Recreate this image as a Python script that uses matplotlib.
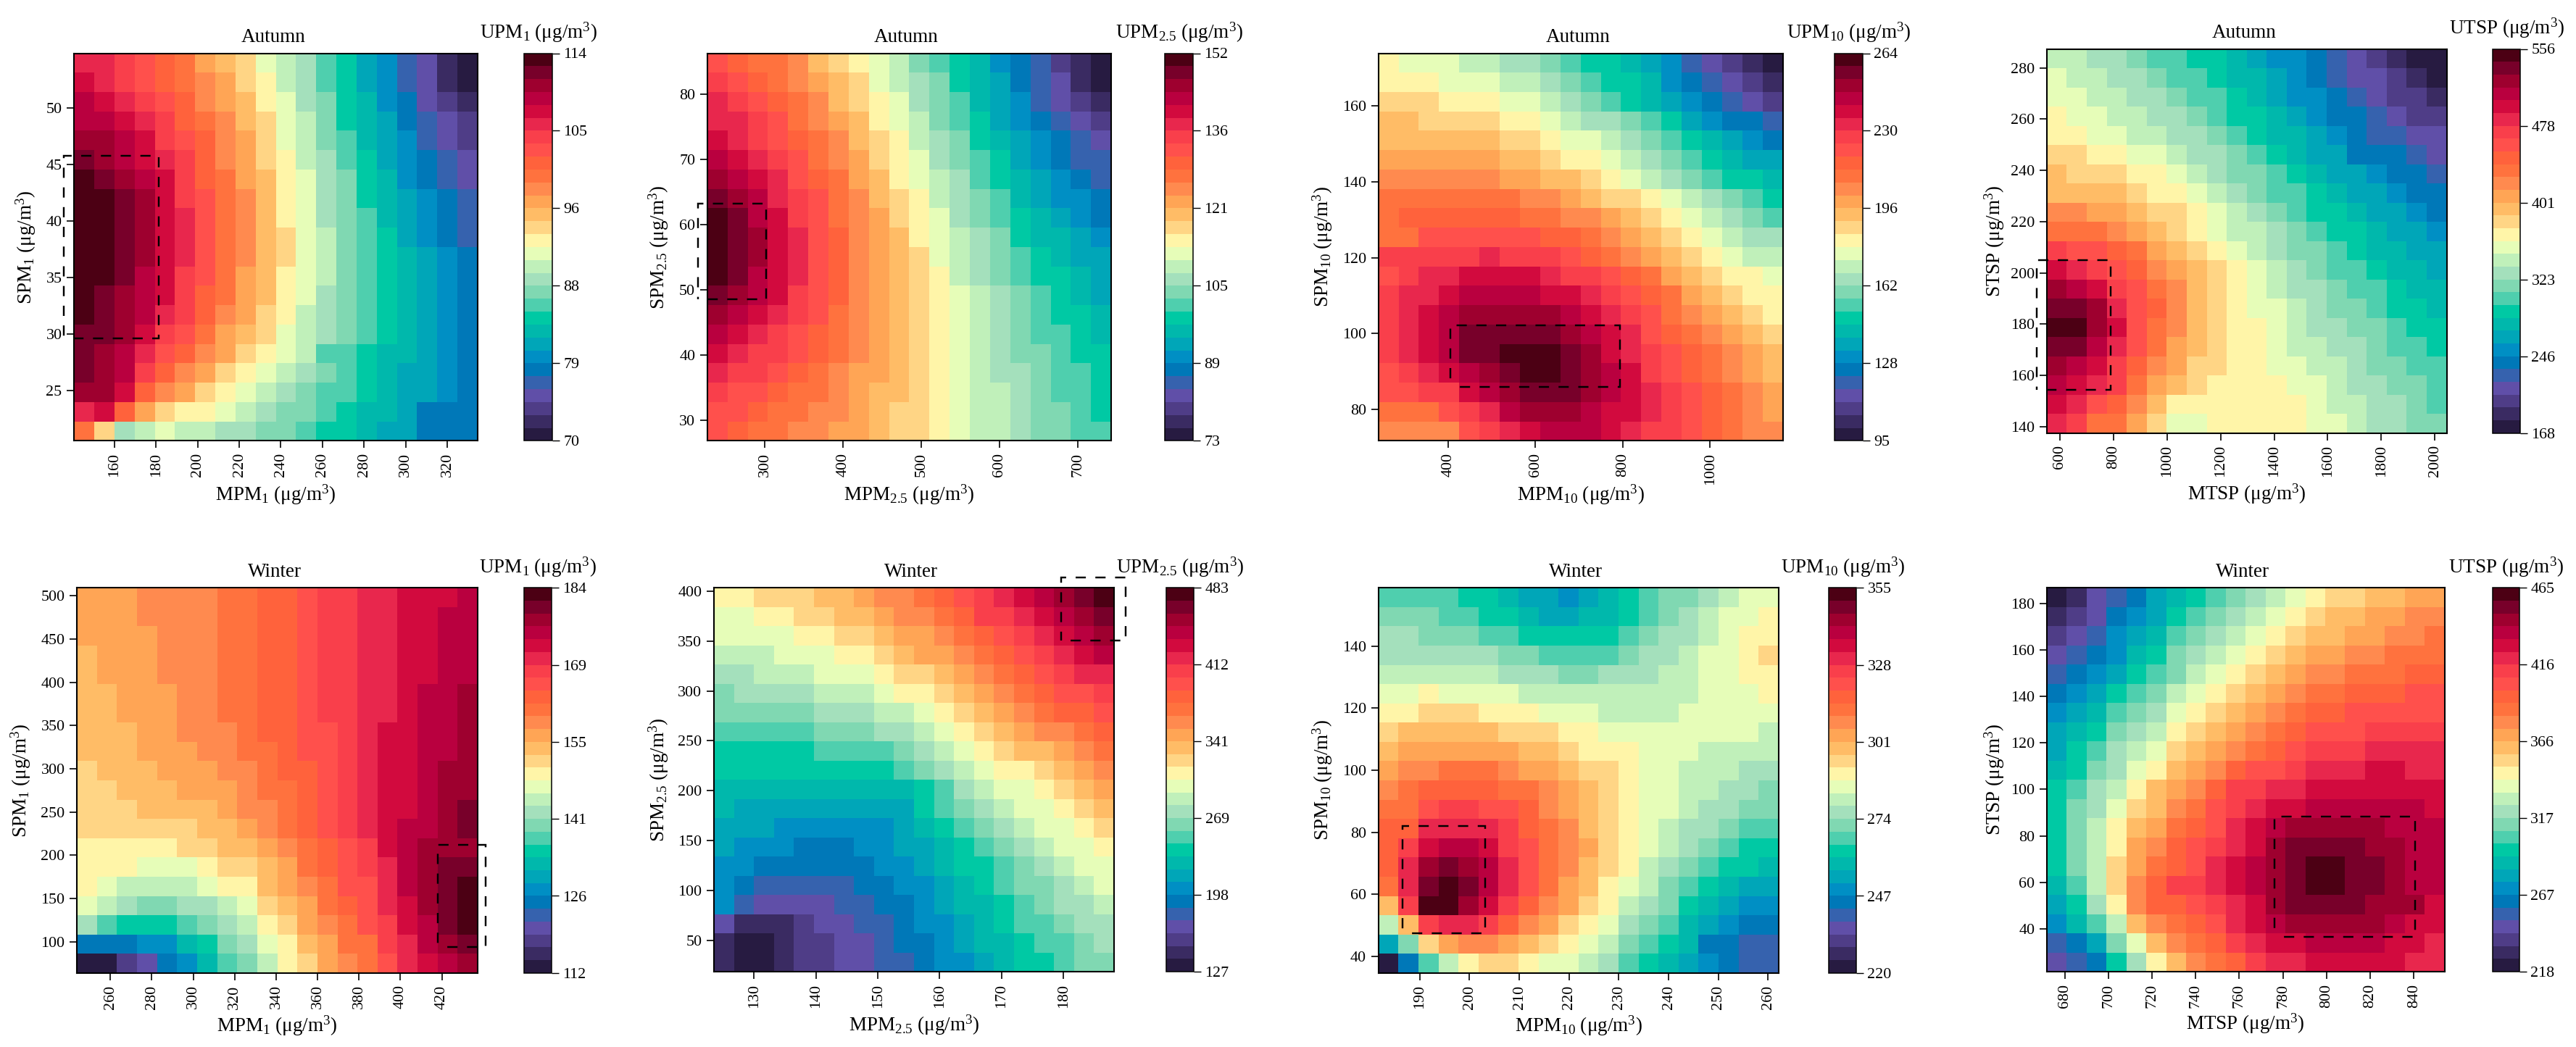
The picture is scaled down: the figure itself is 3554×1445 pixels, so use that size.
#!/usr/bin/env python3
# Mapas de calor U vs M / S (otoño e invierno): 8 paneles con barra de 30 niveles.
# Cada matriz guarda el nivel de color leido (0-29), fila 0 = arriba.

import numpy as np
import matplotlib
matplotlib.use("Agg")
import matplotlib.pyplot as plt
from matplotlib.colors import ListedColormap
from matplotlib.patches import Rectangle

plt.rcParams["font.family"] = ["Liberation Serif", "DejaVu Serif"]
plt.rcParams["mathtext.default"] = "regular"
plt.rcParams["mathtext.fontset"] = "custom"
plt.rcParams["mathtext.rm"] = "Liberation Serif"

W, H = 3554, 1445

COLORES = ["#271b41", "#3a2b62", "#4f3d87", "#604fa8", "#3662ae", "#0078b8",
           "#008fc4", "#00a6b8", "#00b8ac", "#00c9a4", "#4fcfae", "#80d8b2",
           "#a4e0bc", "#c0f0ba", "#e6fdb8", "#fff5a8", "#ffd585", "#ffbc66",
           "#ffa555", "#ff8a4f", "#ff723e", "#ff623c", "#ff504c", "#f93f4b",
           "#e8274d", "#d20a3e", "#b9003f", "#9e002f", "#78002a", "#4c0014"]

A_PM1 = [
    [24,24,23,22,21,20,18,17,16,14,13,12,10,9,7,6,4,3,1,0],
    [25,24,23,22,21,20,19,18,16,15,13,12,10,9,7,6,4,3,1,0],
    [26,25,24,23,22,21,19,18,17,15,14,12,11,9,8,6,5,3,2,1],
    [26,26,25,24,23,21,20,19,17,16,14,13,11,9,8,7,5,4,3,2],
    [27,27,26,25,23,22,21,19,18,16,14,13,11,10,8,7,6,4,3,2],
    [28,27,26,25,24,23,21,19,18,16,15,13,12,10,9,7,6,5,4,3],
    [29,28,27,26,25,23,21,20,18,17,15,14,12,11,9,8,6,5,4,3],
    [29,29,28,27,25,23,22,20,19,17,15,14,12,11,9,8,7,6,5,4],
    [29,29,28,27,25,24,22,20,19,17,15,14,12,11,10,8,7,6,5,4],
    [29,29,28,27,25,24,22,20,19,17,16,14,13,11,10,9,7,6,5,4],
    [29,29,28,27,25,24,22,20,19,17,16,14,13,11,10,9,8,7,6,5],
    [29,29,28,26,25,23,22,20,18,17,15,14,13,11,10,9,8,7,6,5],
    [29,28,27,26,25,23,21,20,18,17,15,14,12,11,10,9,8,7,6,5],
    [29,28,27,26,24,23,21,19,18,16,15,13,12,11,10,9,8,7,6,5],
    [28,28,27,25,23,22,20,18,17,16,14,13,12,11,10,9,8,7,6,5],
    [28,27,26,24,22,21,19,18,16,15,14,13,10,10,9,8,8,7,6,5],
    [28,27,26,23,21,19,18,16,15,14,13,12,11,10,9,8,7,7,6,5],
    [27,27,25,21,19,18,16,15,14,13,12,11,10,10,9,8,7,7,6,5],
    [24,25,21,18,16,15,15,14,13,12,11,11,10,9,8,8,7,5,5,5],
    [20,16,12,13,14,13,13,12,12,11,11,10,9,9,8,7,7,5,5,5],
]

A_PM25 = [
    [22,21,20,20,19,17,16,15,14,13,11,10,9,8,6,5,4,2,1,0],
    [23,22,21,20,19,18,17,16,14,13,12,11,9,8,7,5,4,3,1,0],
    [24,23,22,21,20,19,17,16,15,14,12,11,10,8,7,6,4,3,2,1],
    [24,24,23,22,20,19,18,17,15,14,13,11,10,9,7,6,5,4,3,2],
    [25,24,23,22,21,20,19,17,16,15,13,12,11,9,8,7,6,5,4,3],
    [26,25,24,23,22,20,19,18,16,15,14,12,11,10,9,7,6,5,4,4],
    [27,26,25,24,22,21,20,18,17,15,14,13,12,10,9,8,7,6,5,4],
    [28,27,26,24,23,22,20,19,17,16,15,13,12,11,10,8,7,6,6,5],
    [29,28,26,25,23,22,20,19,18,16,15,14,12,11,10,9,8,7,6,5],
    [29,28,27,25,24,22,21,19,18,17,15,14,13,12,11,9,8,8,7,6],
    [29,28,27,25,24,22,21,19,18,17,16,14,13,12,11,10,9,8,7,7],
    [29,28,26,25,24,22,21,19,18,17,16,15,13,12,11,10,9,9,8,7],
    [28,27,26,25,23,22,21,19,18,17,16,15,14,13,12,11,10,9,8,7],
    [27,26,25,24,23,22,20,19,18,17,16,15,14,13,12,11,10,9,9,8],
    [26,25,24,23,22,21,20,19,18,17,16,15,14,13,12,11,10,10,9,8],
    [25,24,23,23,22,21,20,19,18,17,16,15,14,13,12,11,11,10,9,9],
    [24,23,23,22,21,20,19,18,18,17,16,15,14,13,12,12,11,10,10,9],
    [23,22,22,21,20,20,19,18,17,17,16,15,14,13,13,12,11,10,10,9],
    [22,22,21,20,20,19,19,18,17,16,16,15,14,13,13,12,11,11,10,9],
    [22,21,20,20,19,19,18,18,17,16,16,15,14,13,13,12,11,11,10,10],
]

A_PM10 = [
    [15,14,14,14,13,13,12,12,11,10,9,9,8,7,6,4,3,2,1,0],
    [15,15,15,14,14,14,13,13,12,11,10,9,9,8,6,5,4,3,2,1],
    [16,16,16,15,15,15,14,14,13,12,11,10,9,8,7,6,5,4,3,2],
    [17,17,16,16,16,16,15,15,14,13,12,12,11,10,9,7,6,5,5,4],
    [17,17,17,17,17,17,16,16,15,14,14,13,12,11,10,9,8,7,6,5],
    [18,18,18,18,18,18,17,17,16,15,15,14,13,12,11,10,9,8,7,7],
    [19,19,19,19,19,19,18,18,17,17,16,15,14,13,12,11,10,9,9,8],
    [20,20,20,20,20,20,20,19,19,18,17,16,16,15,14,13,12,11,10,9],
    [20,21,21,21,21,21,21,20,20,19,19,18,17,16,15,14,13,12,11,10],
    [20,20,22,22,22,22,22,22,21,21,20,19,18,17,16,15,14,13,12,12],
    [23,23,23,23,23,24,23,23,23,22,21,20,19,18,17,16,15,14,13,13],
    [22,23,24,24,25,25,25,25,24,23,23,22,21,20,18,17,16,15,15,14],
    [23,24,24,25,26,26,26,26,25,25,24,23,22,21,20,18,17,16,15,15],
    [23,24,25,26,27,27,27,27,27,26,25,24,23,22,20,19,18,17,16,15],
    [23,24,25,26,28,28,28,28,28,27,26,25,24,22,21,20,19,18,17,16],
    [23,24,25,26,28,28,29,29,29,28,27,25,24,23,22,21,20,19,18,17],
    [22,23,24,25,26,27,28,29,29,28,27,26,25,23,22,21,20,19,18,17],
    [22,22,23,23,25,26,27,28,28,28,27,26,25,24,23,22,21,20,19,18],
    [20,20,20,22,23,24,26,27,27,27,26,25,25,24,23,22,21,20,19,18],
    [19,19,19,19,22,23,24,25,26,26,26,25,24,23,23,22,21,20,19,19],
]

A_TSP = [
    [13,13,12,12,11,10,10,9,9,8,7,6,6,5,4,3,2,1,0,0],
    [14,13,13,12,12,11,10,10,9,8,8,7,6,5,4,3,3,2,1,0],
    [14,14,13,13,12,12,11,10,10,9,8,7,6,6,5,4,3,2,2,1],
    [15,14,14,13,13,12,12,11,10,9,9,8,7,6,5,5,4,3,2,2],
    [15,15,14,14,13,13,12,12,11,10,9,8,8,7,6,5,4,4,3,3],
    [16,16,15,15,14,14,13,12,12,11,10,9,8,7,7,5,5,5,4,3],
    [17,16,16,16,15,15,14,13,12,11,11,10,9,8,7,7,6,5,5,4],
    [17,17,17,17,16,15,15,14,13,12,11,10,10,9,8,7,7,6,5,5],
    [19,19,18,18,17,16,16,15,14,13,12,11,10,9,9,8,7,7,6,5],
    [20,20,20,19,18,17,16,15,14,13,13,12,11,10,9,9,8,7,7,6],
    [23,22,22,21,20,18,17,16,15,14,13,12,11,11,10,9,8,8,7,7],
    [25,24,23,22,21,19,18,17,16,15,14,13,12,11,10,10,9,8,8,7],
    [27,26,25,23,22,20,19,17,16,15,14,13,12,12,11,10,10,9,8,8],
    [28,28,27,24,22,21,19,17,16,15,14,14,13,12,11,11,10,9,9,8],
    [29,29,27,25,22,20,19,17,16,15,15,14,13,12,12,11,11,10,9,9],
    [28,28,26,24,22,20,18,17,16,15,15,14,13,13,12,12,11,10,10,9],
    [27,26,25,23,21,19,18,16,16,15,15,14,14,13,13,12,11,11,10,10],
    [26,25,24,23,20,18,17,16,15,15,15,15,14,14,13,12,12,11,11,10],
    [25,24,22,21,19,17,15,15,15,15,15,15,15,14,13,13,12,12,11,10],
    [24,23,20,20,18,16,14,14,15,15,15,15,15,14,14,13,12,12,11,11],
]

W_PM1 = [
    [18,18,18,19,19,19,19,20,20,21,21,22,23,23,24,24,25,25,25,26],
    [18,18,18,19,19,19,19,20,20,21,21,22,23,23,24,24,25,25,26,26],
    [18,18,18,18,19,19,19,20,20,21,21,22,23,23,24,24,25,25,26,26],
    [17,18,18,18,19,19,19,20,20,21,21,22,23,23,24,24,25,25,26,26],
    [17,18,18,18,19,19,19,20,20,21,21,22,23,23,24,24,25,25,26,26],
    [17,17,18,18,18,19,19,20,20,21,21,22,23,23,24,24,25,26,26,27],
    [17,17,18,18,18,19,19,20,20,21,21,22,23,23,24,24,25,26,26,27],
    [17,17,17,18,18,19,19,19,20,21,21,22,22,23,24,25,25,26,26,27],
    [17,17,17,18,18,18,19,19,20,20,21,22,22,23,24,25,25,26,26,27],
    [16,17,17,17,18,18,18,19,19,20,21,21,22,23,24,25,25,26,27,27],
    [16,16,17,17,17,18,18,18,19,20,20,21,22,23,24,25,25,26,27,27],
    [16,16,16,17,17,17,17,18,19,19,20,21,22,23,24,25,25,26,27,28],
    [16,16,16,16,16,16,17,17,18,19,20,21,22,23,24,25,26,26,27,28],
    [15,15,15,15,15,16,16,17,17,18,19,20,21,22,23,25,26,27,27,27],
    [15,15,15,14,14,14,15,16,16,17,18,20,21,22,23,24,26,27,28,28],
    [15,14,13,13,13,13,14,15,15,17,18,19,20,22,22,24,26,27,28,29],
    [14,13,12,11,11,12,12,13,14,16,17,18,20,21,22,24,25,27,28,29],
    [12,10,9,9,9,10,11,12,13,15,16,18,19,20,22,23,25,26,28,29],
    [5,5,5,6,6,8,9,11,12,14,15,17,18,20,20,23,24,26,27,28],
    [0,0,2,3,5,6,8,10,11,13,15,16,18,19,20,22,24,25,26,27],
]

W_PM25 = [
    [15,15,16,16,16,17,17,18,19,19,20,21,22,23,24,25,26,27,28,29],
    [14,14,15,15,16,16,17,17,18,19,19,20,21,23,23,24,25,26,27,28],
    [14,14,14,14,15,15,16,16,17,18,18,19,20,21,22,23,24,25,26,27],
    [13,13,13,14,14,14,15,15,16,17,18,18,19,20,21,22,23,24,25,26],
    [12,12,13,13,13,14,14,14,15,16,16,17,18,19,20,21,22,23,24,24],
    [11,12,12,12,12,13,13,13,14,15,15,16,17,18,19,20,21,22,22,23],
    [11,11,11,11,11,12,12,12,13,13,14,15,16,17,18,19,20,21,21,22],
    [10,10,10,10,10,11,11,11,12,12,13,14,15,16,17,18,19,19,20,21],
    [9,9,9,9,9,10,10,10,10,11,12,13,14,15,16,17,17,18,19,20],
    [9,9,9,9,9,9,9,9,9,10,11,12,13,14,15,15,16,17,18,19],
    [8,8,8,8,8,8,8,8,8,8,9,10,12,13,14,14,15,16,17,18],
    [8,7,7,7,7,7,7,7,7,7,9,10,11,12,13,14,14,15,16,17],
    [7,7,7,6,6,6,6,6,6,7,8,9,10,11,12,13,14,14,15,16],
    [7,6,6,6,5,5,5,6,6,7,7,8,9,10,11,12,13,14,14,15],
    [6,6,5,5,5,5,5,5,6,6,7,8,9,9,10,11,12,13,14,14],
    [6,5,4,4,4,4,4,5,5,6,6,7,8,9,10,11,11,12,13,14],
    [6,4,3,3,3,3,4,4,5,5,6,7,8,8,9,10,11,12,12,13],
    [3,1,1,1,2,3,3,4,4,5,6,6,7,8,9,10,10,11,12,12],
    [1,0,0,1,2,2,3,3,4,5,5,6,7,8,8,9,10,10,11,12],
    [1,0,0,1,2,2,3,3,4,4,5,6,6,7,8,9,9,10,11,11],
]

W_PM10 = [
    [10,10,10,10,9,9,8,7,7,6,7,8,9,10,11,11,12,13,14,14],
    [11,11,11,10,10,9,9,8,7,7,8,8,9,10,11,12,13,14,14,15],
    [12,12,11,11,11,10,10,9,9,9,9,9,10,11,12,12,13,14,15,15],
    [12,12,12,12,12,12,11,11,10,10,10,10,11,12,12,13,14,14,15,16],
    [13,13,13,13,13,13,12,12,12,11,11,12,12,12,13,13,14,14,15,15],
    [14,14,15,14,14,14,14,13,13,13,13,13,13,13,13,13,14,14,14,15],
    [15,15,16,16,16,15,15,15,14,14,14,13,13,13,13,14,14,14,14,14],
    [16,17,17,17,17,17,16,16,16,15,15,14,14,14,14,14,14,14,14,13],
    [17,18,18,18,18,18,18,17,17,16,15,15,15,14,14,14,13,13,13,13],
    [18,19,19,20,20,20,19,18,18,17,16,16,15,14,14,13,13,13,12,12],
    [19,20,21,21,21,21,20,20,19,18,17,16,15,14,14,13,13,12,12,11],
    [20,20,22,23,23,22,22,21,19,18,17,16,15,14,14,13,12,12,11,11],
    [21,21,24,24,24,24,23,21,20,19,17,16,15,14,13,12,12,11,10,10],
    [21,23,25,26,26,25,23,22,20,19,18,16,15,14,13,12,11,10,9,9],
    [21,24,27,28,27,26,24,22,20,19,17,16,15,13,12,11,10,9,9,8],
    [20,24,28,29,28,26,24,22,20,18,17,15,14,13,11,10,9,8,7,7],
    [17,23,29,29,27,25,23,21,19,18,16,15,13,12,11,9,8,7,6,6],
    [13,17,23,24,24,23,21,19,18,16,15,14,12,11,10,8,7,6,5,5],
    [7,11,16,18,19,19,18,17,16,15,14,13,11,10,9,8,5,5,4,4],
    [0,5,10,13,15,16,16,15,14,14,13,12,10,9,8,7,6,5,4,4],
]

W_TSP = [
    [0,1,3,4,5,7,8,9,10,11,12,13,14,15,16,16,17,17,18,18],
    [1,2,3,5,6,7,9,10,11,12,13,14,15,16,17,17,18,18,19,19],
    [2,3,4,6,7,8,10,11,12,13,14,15,16,17,17,18,18,19,19,20],
    [3,4,5,6,8,9,11,12,13,14,15,16,17,18,18,19,19,20,20,20],
    [4,5,6,7,9,10,11,13,14,15,16,17,18,19,19,20,20,20,21,21],
    [5,6,7,9,10,11,13,14,15,16,17,18,19,20,20,21,21,21,22,22],
    [6,7,8,10,11,12,14,15,16,17,18,19,20,21,21,22,22,22,22,22],
    [7,8,9,11,12,13,15,16,17,18,19,20,21,22,22,22,23,23,23,23],
    [7,9,10,12,13,14,16,17,18,19,20,21,22,23,23,23,24,24,24,24],
    [8,9,11,12,14,15,17,18,19,21,22,22,23,24,24,24,25,25,24,24],
    [9,10,12,13,15,17,18,19,21,23,23,24,24,25,25,25,25,25,25,25],
    [9,11,12,14,16,17,19,20,22,23,24,25,25,26,26,26,26,26,26,25],
    [9,11,13,15,17,18,20,21,22,24,25,26,27,27,27,27,27,26,26,26],
    [9,11,13,15,18,19,21,22,23,24,25,27,28,28,28,28,27,27,26,26],
    [9,11,13,16,18,20,21,22,24,25,26,27,28,29,29,28,28,27,26,26],
    [8,10,13,16,19,21,23,23,24,25,26,27,28,29,29,28,28,27,26,26],
    [7,9,12,15,19,21,21,22,23,24,25,27,28,28,28,28,27,27,27,25],
    [6,8,10,13,17,19,20,21,22,24,25,26,27,27,27,27,27,26,25,25],
    [4,5,7,11,14,17,19,20,21,23,24,25,25,26,26,26,26,25,25,24],
    [3,4,5,9,12,15,17,19,20,21,23,24,24,25,25,25,25,25,24,24],
]

TITULOS = ["Autumn"] * 4 + ["Winter"] * 4
XLABELS = ["MPM$_{1}$ (μg/m$^{3}$)", "MPM$_{2.5}$ (μg/m$^{3}$)", "MPM$_{10}$ (μg/m$^{3}$)", "MTSP (μg/m$^{3}$)"] * 2
YLABELS = ["SPM$_{1}$ (μg/m$^{3}$)", "SPM$_{2.5}$ (μg/m$^{3}$)", "SPM$_{10}$ (μg/m$^{3}$)", "STSP (μg/m$^{3}$)"] * 2
CLABELS = ["UPM$_{1}$ (μg/m$^{3}$)", "UPM$_{2.5}$ (μg/m$^{3}$)", "UPM$_{10}$ (μg/m$^{3}$)", "UTSP (μg/m$^{3}$)"] * 2

MATRICES = [A_PM1, A_PM25, A_PM10, A_TSP, W_PM1, W_PM25, W_PM10, W_TSP]

# rango de ejes
XLIMS = [(140.6, 334.6), (226.6, 743), (239.7, 1167), (551.9, 2043.5),
         (243.9, 437.3), (123.5, 188.2), (181.7, 262.1), (671.8, 854.1)]
YLIMS = [(20.55, 54.86), (26.8, 86.3), (71.7, 173.9), (137.5, 287.4),
         (63.8, 509.2), (18.7, 403.3), (34.6, 158.8), (21.7, 186.6)]
XTICKS = [list(range(160, 321, 20)), list(range(300, 701, 100)), list(range(400, 1001, 200)),
          list(range(600, 2001, 200)), list(range(260, 421, 20)), list(range(130, 181, 10)),
          list(range(190, 261, 10)), list(range(680, 841, 20))]
YTICKS = [list(range(25, 51, 5)), list(range(30, 81, 10)), list(range(80, 161, 20)),
          list(range(140, 281, 20)), list(range(100, 501, 50)), list(range(50, 401, 50)),
          list(range(40, 141, 20)), list(range(40, 181, 20))]

# escala de color
VMIN = [70, 73, 95, 168, 112, 127, 220, 218]
VMAX = [114, 152, 264, 556, 184, 483, 355, 465]
CTICKLABELS = [
    ["70", "79", "88", "96", "105", "114"],
    ["73", "89", "105", "121", "136", "152"],
    ["95", "128", "162", "196", "230", "264"],
    ["168", "246", "323", "401", "478", "556"],
    ["112", "126", "141", "155", "169", "184"],
    ["127", "198", "269", "341", "412", "483"],
    ["220", "247", "274", "301", "328", "355"],
    ["218", "267", "317", "366", "416", "465"],
]

# recuadros punteados (x0, x1, y0, y1)
CAJAS = [(135.6, 181.2, 29.65, 45.8), (214.4, 302.1, 48.5, 63.2), (404.8, 793, 85.9, 102.1),
         (514.7, 790.9, 154.4, 205), (418, 441.1, 93.8, 212.3), (179.6, 190.1, 350.3, 413.6),
         (186.5, 203.1, 47.3, 82.1), (776.3, 840.6, 36.7, 88.3)]

# cajas en pixeles de la imagen final: (x0, x1, y0, y1)
AX_PX = [(102.2, 659, 73.5, 608.4), (975.8, 1533.1, 73.5, 608.4), (1901.7, 2459.6, 73.5, 608.4),
         (2823.9, 3375.5, 67.5, 597.6), (106.2, 659, 811.3, 1342.8), (985, 1537.1, 811.3, 1341),
         (1901.7, 2453.9, 811.3, 1342.8), (2823.9, 3372.6, 811.3, 1341)]
CB_PX = [(723.2, 762.3), (1607.2, 1646.2), (2531.4, 2569.8), (3439.2, 3477.1),
         (723.2, 761.1), (1608.9, 1647.3), (2523.3, 2561.2), (3438.7, 3476)]
YLAB_X = [-0.119, -0.12, -0.138, -0.131, -0.14, -0.138, -0.139, -0.132]
XLAB_Y = [-0.139, -0.139, -0.139, -0.158, -0.137, -0.14, -0.137, -0.135]

FS_TITULO = 19.5
FS_TICK = 15.8
NIVELES = 30


def caja(x0, x1, y0, y1):
    return [x0 / W, 1 - y1 / H, (x1 - x0) / W, (y1 - y0) / H]


fig = plt.figure(figsize=(W / 100, H / 100), dpi=100)
cmap = ListedColormap(COLORES)

for i in range(8):
    x0, x1, y0, y1 = AX_PX[i]
    ax = fig.add_axes(caja(x0, x1, y0, y1))
    cax = fig.add_axes(caja(CB_PX[i][0], CB_PX[i][1], y0, y1))

    # nivel -> valor en el centro de la clase
    paso = (VMAX[i] - VMIN[i]) / NIVELES
    z = VMIN[i] + (np.array(MATRICES[i], dtype=float)[::-1] + 0.5) * paso
    xe = np.linspace(XLIMS[i][0], XLIMS[i][1], z.shape[1] + 1)
    ye = np.linspace(YLIMS[i][0], YLIMS[i][1], z.shape[0] + 1)
    m = ax.pcolormesh(xe, ye, z, cmap=cmap, vmin=VMIN[i], vmax=VMAX[i])

    ax.set_xlim(*XLIMS[i])
    ax.set_ylim(*YLIMS[i])
    ax.set_xticks(XTICKS[i])
    ax.set_yticks(YTICKS[i])
    ax.tick_params(axis="x", labelsize=FS_TICK, length=7.5, width=1.2, labelrotation=90, pad=4.5)
    ax.tick_params(axis="y", labelsize=FS_TICK, length=7.5, width=1.2, pad=4.5)
    for s in ax.spines.values():
        s.set_linewidth(1.5)

    ax.set_title(TITULOS[i], fontsize=FS_TITULO, pad=11, x=0.493)
    ax.set_xlabel(XLABELS[i], fontsize=FS_TITULO, va="center")
    ax.set_ylabel(YLABELS[i], fontsize=FS_TITULO, va="center")
    ax.xaxis.set_label_coords(0.5, XLAB_Y[i])
    ax.yaxis.set_label_coords(YLAB_X[i], 0.5)

    # el trazo arranca en un hueco, como en el original
    bx0, bx1, by0, by1 = CAJAS[i]
    ax.add_patch(Rectangle((bx0, by0), bx1 - bx0, by1 - by0, fill=False, ec="black",
                           lw=1.75, ls=(5.8, (5.8, 5.4)), clip_on=False, zorder=5))

    cb = fig.colorbar(m, cax=cax)
    cb.set_ticks(np.linspace(VMIN[i], VMAX[i], 6))
    cb.set_ticklabels(CTICKLABELS[i])
    cb.ax.tick_params(labelsize=FS_TICK, length=7, width=1.0, pad=4)
    cb.outline.set_linewidth(1.1)
    cb.ax.set_title(CLABELS[i], fontsize=FS_TITULO, pad=15)

fig.savefig("out.png", dpi=100, facecolor="white")
